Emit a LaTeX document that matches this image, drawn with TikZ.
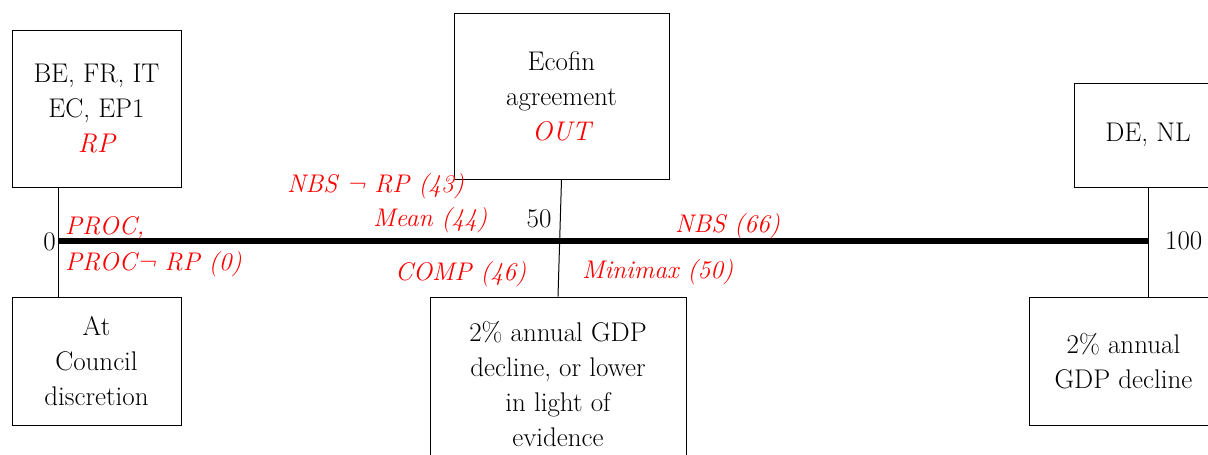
\documentclass[tikz,border=0pt]{standalone}
\usepackage{fontspec}
\begin{document}
\begin{tikzpicture}[x=1pt,y=-1pt,
  box/.style={draw,line width=0.9pt,align=center,inner sep=0pt,font=\fontsize{27}{35}\selectfont},
  lab/.style={text=red,font=\fontsize{25.5}{30}\selectfont\itshape,inner sep=0pt},
  num/.style={font=\fontsize{27}{30}\selectfont,inner sep=0pt},
  conn/.style={line width=1pt}]
\useasboundingbox (0,0) rectangle (1208,455);
\node[box,minimum width=169,minimum height=157] (b1) at (96.5,108.5) {BE, FR, IT\\EC, EP1\\\textcolor{red}{\itshape RP}};
\node[box,minimum width=169,minimum height=128] (b2) at (96.5,361) {At\\Council\\discretion};
\node[box,minimum width=215,minimum height=166] (eco) at (561.5,96) {Ecofin\\agreement\\\textcolor{red}{\itshape OUT}};
\node[box,minimum width=256,minimum height=174] (gdpm) at (558,384) {2\% annual GDP\\decline, or lower\\in light of\\evidence};
\node[box,minimum width=148,minimum height=104] (denl) at (1148,135) {DE, NL};
\node[box,minimum width=189,minimum height=128] (gdpr) at (1123.5,361) {2\% annual\\GDP decline};
\coordinate (t0) at (58,241);
\coordinate (t50) at (560,241);
\coordinate (t100) at (1148,241);
\draw[conn] (t0 |- b1.south) -- (t0 |- b2.north);
\draw[conn] (eco.south) -- (gdpm.north);
\draw[conn] (t100 |- denl.south) -- (t100 |- gdpr.north);
\draw[line width=6pt] (t0) -- (t100);
\node[num,anchor=east] (n0) at (56,242) {0};
\node[num] (n50) at (539,219) {50};
\node[num,anchor=west] (n100) at (1165,241) {100};
\node[lab,anchor=west] (l1) at (65,228) {PROC,};
\node[lab,anchor=west] (l2) at (65,264) {PROC¬ RP (0)};
\node[lab,anchor=west] (l3) at (287,186) {NBS ¬ RP (43)};
\node[lab,anchor=west] (l4) at (373,220) {Mean (44)};
\node[lab,anchor=west] (l5) at (395,274) {COMP (46)};
\node[lab,anchor=west] (l6) at (582,272) {Minimax (50)};
\node[lab,anchor=west] (l7) at (675,226) {NBS (66)};
\end{tikzpicture}
\end{document}
